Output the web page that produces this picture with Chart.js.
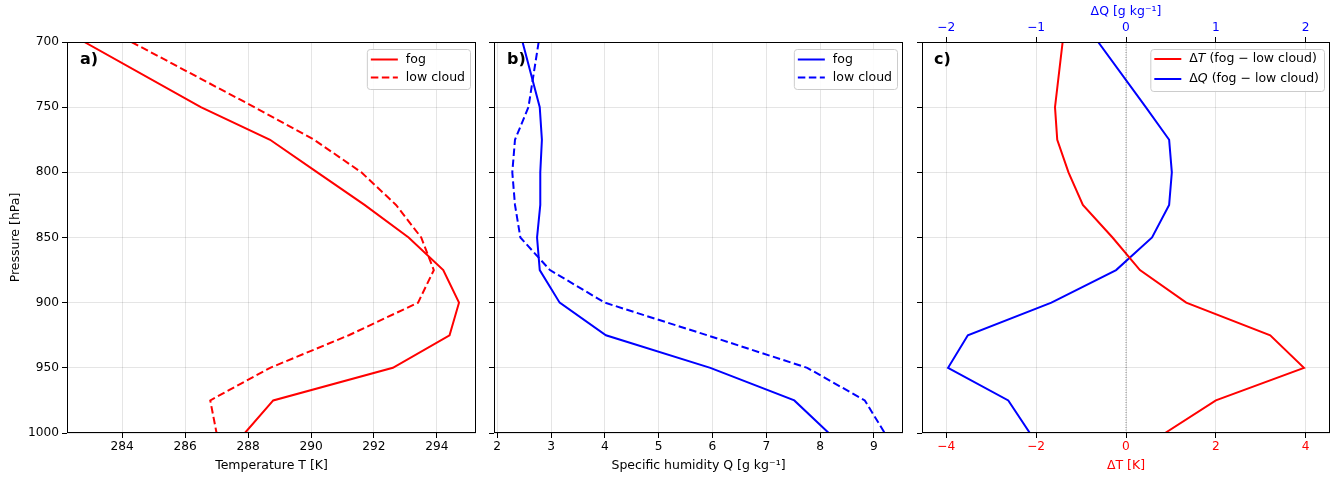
<!DOCTYPE html>
<html lang="en">
<head>
    <meta charset="UTF-8">
    <title>Fog vs low cloud profiles</title>
    <script src="https://cdn.jsdelivr.net/npm/chart.js"></script>
    <style>
        body {
            margin: 0;
            background-color: #fff;
        }
        #wrap {
            position: relative;
            width: 1338px;
            height: 477px;
        }
        .panel {
            position: absolute;
            top: 0;
            height: 477px;
        }
        .tag {
            position: absolute;
            top: 50px;
            font: bold 16px "DejaVu Sans", sans-serif;
            line-height: 18px;
            color: #000;
        }
    </style>
</head>
<body>
    <div id="wrap">
        <div class="panel" style="left:0px;width:482px"><canvas id="chartT" width="482" height="477"></canvas></div>
        <div class="panel" style="left:482px;width:426px"><canvas id="chartQ" width="426" height="477"></canvas></div>
        <div class="panel" style="left:908px;width:430px"><canvas id="chartD" width="430" height="477"></canvas></div>
        <div class="tag" style="left:80px">a)</div>
        <div class="tag" style="left:507px">b)</div>
        <div class="tag" style="left:934px">c)</div>
    </div>

    <script>
        // pressure levels [hPa]
        const pressure = [700, 750, 775, 800, 825, 850, 875, 900, 925, 950, 975, 1000];

        // temperature [K]
        const tFog = [282.8, 286.5, 288.7, 290.2, 291.7, 293.1, 294.2, 294.7, 294.4, 292.6, 288.8, 287.9];
        const tLow = [284.3, 288.2, 290.1, 291.6, 292.7, 293.5, 293.9, 293.4, 291.2, 288.7, 286.8, 287.0];

        // specific humidity [g/kg]
        const qFog = [2.47, 2.79, 2.83, 2.80, 2.80, 2.74, 2.79, 3.16, 4.02, 5.96, 7.52, 8.16];
        const qLow = [2.77, 2.58, 2.33, 2.28, 2.33, 2.43, 2.98, 4.00, 5.90, 7.76, 8.83, 9.20];

        // differences fog - low cloud
        const dT = [-1.41, -1.58, -1.53, -1.28, -0.96, -0.30, 0.31, 1.34, 3.21, 3.96, 2.00, 0.87];
        const dQ = [-0.31, 0.22, 0.48, 0.51, 0.48, 0.29, -0.11, -0.83, -1.76, -1.98, -1.31, -1.07];
        const zeroLine = [0, 0];
        const zeroLevels = [700, 1000];

        // tick labels
        const pTicks = [700, 750, 800, 850, 900, 950, 1000];
        const tTicks = [284, 286, 288, 290, 292, 294];
        const qTicks = [2, 3, 4, 5, 6, 7, 8, 9];
        const dTTicks = [-4, -2, 0, 2, 4];
        const dQTicks = [-2, -1, 0, 1, 2];

        const FONT = '"DejaVu Sans", sans-serif';
        const tickFont = { family: FONT, size: 12.2 };
        const titleFont = { family: FONT, size: 12.5 };
        const gridColor = 'rgba(0,0,0,0.1)';

        const minus = v => String(v).replace('-', '\u2212');

        // black box round the plot area, like matplotlib axes
        const frame = {
            id: 'frame',
            afterDraw(chart) {
                const a = chart.chartArea;
                const ctx = chart.ctx;
                ctx.save();
                ctx.strokeStyle = '#000';
                ctx.lineWidth = 1;
                ctx.strokeRect(a.left + 0.5, a.top + 0.5, a.right - a.left - 1, a.bottom - a.top - 1);
                ctx.restore();
            }
        };

        // text with _italic_ parts
        function richText(ctx, text, x, y, draw) {
            text.split('_').forEach((part, i) => {
                ctx.font = (i % 2 ? 'italic ' : '') + '12.5px ' + FONT;
                if (draw) ctx.fillText(part, x, y);
                x += ctx.measureText(part).width;
            });
            return x;
        }

        // legend box in the upper right corner of the plot
        const boxLegend = {
            id: 'boxLegend',
            afterDatasetsDraw(chart, args, opts) {
                if (!opts || !opts.rowH) return;
                const items = chart.data.datasets.filter(d => d.label);
                const ctx = chart.ctx;
                const a = chart.chartArea;
                ctx.save();
                let textW = 0;
                items.forEach(d => { textW = Math.max(textW, richText(ctx, d.label, 0, 0, false)); });
                const w = 4 + 27 + 8 + textW + 5;
                const h = opts.height;
                const right = a.right - 6;
                const left = right - w;
                const top = a.top + 7;

                ctx.beginPath();
                ctx.roundRect(left + 0.5, top + 0.5, w, h, 3);
                ctx.fillStyle = 'rgba(255,255,255,0.85)';
                ctx.fill();
                ctx.strokeStyle = '#cccccc';
                ctx.lineWidth = 1;
                ctx.stroke();

                items.forEach((d, i) => {
                    const y = top + opts.firstRow + i * opts.rowH;
                    ctx.beginPath();
                    ctx.strokeStyle = d.borderColor;
                    ctx.lineWidth = d.borderWidth;
                    ctx.setLineDash(d.borderDash || []);
                    ctx.moveTo(left + 4, y);
                    ctx.lineTo(left + 31, y);
                    ctx.stroke();
                    ctx.setLineDash([]);
                    ctx.fillStyle = '#000';
                    ctx.textBaseline = 'middle';
                    richText(ctx, d.label, left + 39, y, true);
                });
                ctx.restore();
            }
        };

        Chart.register(frame, boxLegend);

        function profile(label, xs, color, dashed, axis, levels) {
            const ys = levels || pressure;
            return {
                label: label,
                data: xs.map((v, i) => ({ x: v, y: ys[i] })),
                borderColor: color,
                backgroundColor: color,
                borderWidth: 2,
                borderDash: dashed ? [7.5, 3.5] : [],
                showLine: true,
                pointRadius: 0,
                tension: 0,
                xAxisID: axis || 'x'
            };
        }

        function pressureAxis(width, labels, title) {
            return {
                type: 'linear',
                reverse: true,
                min: 700,
                max: 1000,
                afterFit: s => { s.width = width; },
                afterBuildTicks: s => { s.ticks = pTicks.map(v => ({ value: v })); },
                ticks: { callback: v => labels ? v : '', font: tickFont, color: '#000', padding: 3 },
                grid: { color: gridColor, tickColor: '#000', tickLength: 5 },
                border: { display: false },
                title: { display: !!title, text: title, font: titleFont, color: '#000', padding: { top: 8, bottom: 0 } }
            };
        }

        function valueAxis(pos, min, max, tickList, title, color, grid) {
            return {
                type: 'linear',
                position: pos,
                min: min,
                max: max,
                afterFit: s => { s.height = pos === 'top' ? 42 : 44; },
                afterBuildTicks: s => { s.ticks = tickList.map(v => ({ value: v })); },
                ticks: { callback: v => minus(v), font: tickFont, color: color, padding: 2 },
                grid: { color: gridColor, tickColor: '#000', tickLength: 5, drawOnChartArea: grid },
                border: { display: false },
                title: { display: true, text: title, font: titleFont, color: color, padding: { top: 4, bottom: 4 } }
            };
        }

        function makeChart(id, datasets, scales, padding, legendOpts) {
            return new Chart(document.getElementById(id), {
                type: 'scatter',
                data: { datasets: datasets },
                options: {
                    responsive: false,
                    animation: false,
                    events: [],
                    layout: { padding: padding },
                    scales: scales,
                    plugins: {
                        legend: { display: false },
                        tooltip: { enabled: false },
                        boxLegend: legendOpts
                    }
                }
            });
        }

        makeChart('chartT',
            [profile('fog', tFog, '#ff0000', false), profile('low cloud', tLow, '#ff0000', true)],
            {
                x: valueAxis('bottom', 282.25, 295.24, tTicks, 'Temperature T [K]', '#000', true),
                y: pressureAxis(67, true, 'Pressure [hPa]')
            },
            { left: 0, right: 6, top: 42, bottom: 0 },
            { rowH: 18, firstRow: 10.5, height: 40 });

        makeChart('chartQ',
            [profile('fog', qFog, '#0000ff', false), profile('low cloud', qLow, '#0000ff', true)],
            {
                x: valueAxis('bottom', 1.94, 9.54, qTicks, 'Specific humidity Q [g kg\u207B\u00B9]', '#000', true),
                y: pressureAxis(12, false, '')
            },
            { left: 0, right: 5, top: 42, bottom: 0 },
            { rowH: 18, firstRow: 10.5, height: 40 });

        const zero = profile('', zeroLine, 'rgba(0,0,0,0.45)', false, 'x', zeroLevels);
        zero.borderWidth = 1;
        zero.borderDash = [1, 1.5];

        makeChart('chartD',
            [zero,
             profile('\u0394_T_ (fog \u2212 low cloud)', dT, '#ff0000', false),
             profile('\u0394_Q_ (fog \u2212 low cloud)', dQ, '#0000ff', false, 'x2')],
            {
                x: valueAxis('bottom', -4.54, 4.54, dTTicks, '\u0394T [K]', '#ff0000', true),
                x2: valueAxis('top', -2.27, 2.27, dQTicks, '\u0394Q [g kg\u207B\u00B9]', '#0000ff', false),
                y: pressureAxis(14, false, '')
            },
            { left: 0, right: 8, top: 0, bottom: 0 },
            { rowH: 20, firstRow: 10, height: 42 });
    </script>
</body>
</html>
